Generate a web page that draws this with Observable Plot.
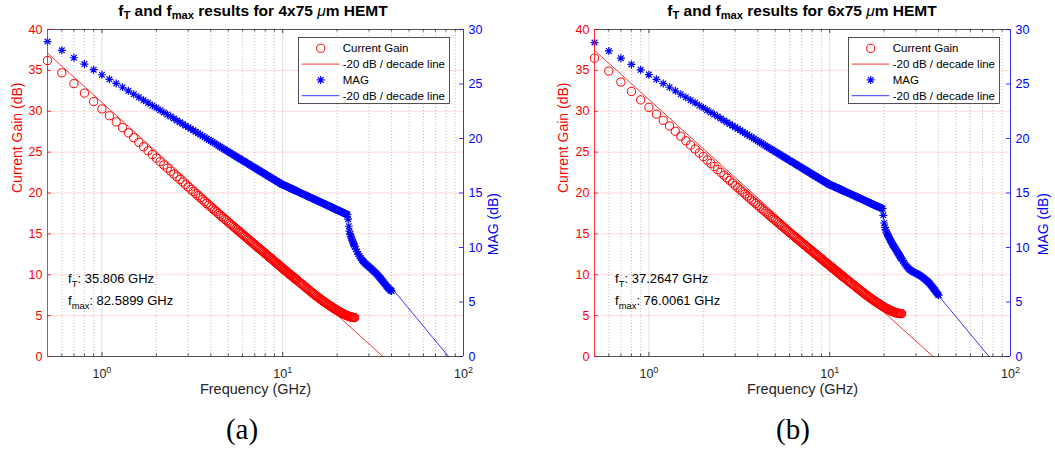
<!DOCTYPE html>
<html><head><meta charset="utf-8">
<script src="https://cdn.jsdelivr.net/npm/d3@7"></script>
<script src="https://cdn.jsdelivr.net/npm/@observablehq/plot@0.6"></script>
<style>
html,body{margin:0;padding:0;background:#fff;}
#root{position:relative;width:1055px;height:454px;overflow:hidden;font-family:"Liberation Sans",Arial,Helvetica,sans-serif;}
.title{position:absolute;top:3px;font-weight:bold;font-size:15.5px;line-height:1;color:#000;white-space:nowrap;transform:translateX(-50%);}
.title sub{font-size:72%;position:relative;top:0.3em;vertical-align:baseline;line-height:0;}
.title .mu{font-style:italic;font-weight:normal;}
.caption{position:absolute;top:415px;font-family:"Liberation Serif","DejaVu Serif",serif;font-size:29px;line-height:1;color:#000;transform:translateX(-50%);}
.legend{position:absolute;}
</style></head><body><div id="root"></div><script>
// ---------------- data ----------------
// sweep frequencies, GHz
const freq = [0.5,0.6,0.7,0.8,0.9,1.0,1.1,1.2,1.3,1.4,1.5,1.6,1.7,1.8,1.9,2.0,2.1,2.2,2.3,2.4,2.5,2.6,2.7,2.8,2.9,3.0,
3.1,3.2,3.3,3.4,3.5,3.6,3.7,3.8,3.9,
4.0,4.1,4.2,4.3,4.4,4.5,4.6,4.7,4.8,4.9,
5.0,5.1,5.2,5.3,5.4,5.5,5.6,5.7,5.8,5.9,
6.0,6.1,6.2,6.3,6.4,6.5,6.6,6.7,6.8,6.9,
7.0,7.1,7.2,7.3,7.4,7.5,7.6,7.7,7.8,7.9,
8.0,8.1,8.2,8.3,8.4,8.5,8.6,8.7,8.8,8.9,
9.0,9.1,9.2,9.3,9.4,9.5,9.6,9.7,9.8,9.9,
10.0,10.1,10.2,10.3,10.4,10.5,10.6,10.7,10.8,10.9,
11.0,11.1,11.2,11.3,11.4,11.5,11.6,11.7,11.8,11.9,
12.0,
12.2,12.4,12.6,12.8,13.0,13.2,13.4,13.6,13.8,14.0,14.2,14.4,14.6,14.8,15.0,15.2,15.4,15.6,15.8,16.0,
16.2,16.4,16.6,16.8,17.0,17.2,17.4,17.6,17.8,18.0,18.2,18.4,18.6,18.8,19.0,19.2,19.4,19.6,19.8,20.0,
20.2,20.4,20.6,20.8,21.0,21.2,21.4,21.6,21.8,22.0,22.2,22.4,22.6,22.8,23.0,23.2,23.4,23.6,23.8,24.0,
24.2,24.4,24.6,24.8,25.0,
25.4,25.8,26.2,26.6,27.0,27.4,27.8,28.2,28.6,29.0,29.4,29.8,30.2,30.6,31.0,31.4,31.8,32.2,32.6,33.0,
33.4,33.8,34.2,34.6,35.0,35.4,35.8,36.2,36.6,37.0,37.4,37.8,38.2,38.6,39.0,39.4,39.8,40.0];

// (a) 4x75 um HEMT : current gain (dB), 0.5 .. 25 GHz
const gainA = [36.20,34.70,33.38,32.22,31.19,30.28,29.45,28.70,28.00,27.36,26.76,26.20,25.67,25.17,24.70,24.26,23.83,23.43,23.04,22.67,22.32,21.98,21.65,21.34,21.03,20.74,
20.45,20.19,19.92,19.67,19.42,19.18,18.95,18.72,18.50,
18.29,18.08,17.88,17.69,17.49,17.31,17.12,16.95,16.77,16.61,
16.44,16.28,16.11,15.95,15.80,15.65,15.51,15.36,15.21,15.07,
14.94,14.80,14.67,14.53,14.41,14.28,14.16,14.04,13.91,13.79,
13.68,13.56,13.45,13.34,13.22,13.12,13.01,12.91,12.81,12.70,
12.60,12.50,12.40,12.30,12.20,12.11,12.01,11.92,11.83,11.73,
11.64,11.55,11.46,11.37,11.29,11.20,11.11,11.03,10.94,10.86,
10.78,10.70,10.62,10.54,10.46,10.39,10.31,10.24,10.16,10.09,
10.01,9.94,9.88,9.80,9.73,9.67,9.60,9.53,9.46,9.40,
9.33,
9.20,9.07,8.94,8.83,8.70,8.58,8.46,8.34,8.22,8.12,8.00,7.89,7.78,7.67,7.57,7.47,7.38,7.28,7.19,7.10,
7.01,6.92,6.84,6.75,6.67,6.59,6.52,6.44,6.36,6.29,6.22,6.15,6.08,6.02,5.95,5.88,5.82,5.76,5.70,5.64,
5.58,5.53,5.47,5.42,5.37,5.32,5.27,5.22,5.18,5.14,5.10,5.06,5.03,4.99,4.95,4.92,4.90,4.87,4.84,4.82,
4.80,4.78,4.77,4.76,4.75];
// (a) MAG (dB), 0.5 .. 40 GHz
const magA = [28.89,28.09,27.41,26.83,26.31,25.85,25.43,25.05,24.70,24.37,24.07,23.79,23.52,23.27,23.03,22.81,22.60,22.39,22.20,22.01,21.83,21.66,21.49,21.33,21.18,21.03,
20.89,20.75,20.61,20.48,20.36,20.23,20.11,19.99,19.88,
19.77,19.66,19.56,19.45,19.35,19.25,19.16,19.06,18.97,18.88,
18.79,18.70,18.62,18.53,18.45,18.37,18.29,18.22,18.14,18.06,
17.99,17.92,17.85,17.78,17.71,17.64,17.57,17.51,17.44,17.38,
17.31,17.25,17.19,17.13,17.07,17.01,16.95,16.90,16.84,16.78,
16.73,16.67,16.62,16.57,16.52,16.46,16.41,16.36,16.31,16.26,
16.21,16.16,16.12,16.07,16.02,15.98,15.93,15.88,15.84,15.79,
15.75,15.74,15.70,15.67,15.64,15.61,15.58,15.54,15.51,15.48,
15.45,15.42,15.39,15.36,15.33,15.30,15.27,15.24,15.22,15.19,
15.16,
15.11,15.05,15.00,14.94,14.89,14.84,14.79,14.74,14.69,14.64,14.60,14.55,14.50,14.46,14.41,14.37,14.33,14.28,14.24,14.20,
14.16,14.12,14.08,14.04,14.00,13.96,13.92,13.88,13.84,13.80,13.77,13.73,13.69,13.66,13.62,13.59,13.55,13.52,13.49,13.45,
13.42,13.39,13.35,13.32,13.29,13.26,13.23,13.19,13.16,13.13,13.10,13.07,13.04,13.01,12.60,11.95,11.50,11.20,11.03,10.87,
10.70,10.53,10.38,10.25,10.10,
9.86,9.62,9.40,9.20,9.03,8.88,8.75,8.64,8.54,8.45,8.36,8.28,8.19,8.11,8.02,7.94,7.85,7.76,7.68,7.59,
7.50,7.40,7.30,7.20,7.10,7.00,6.90,6.80,6.70,6.60,6.50,6.41,6.32,6.24,6.16,6.09,6.03,6.00];
const gainLineAf = [0.5, 35.806], gainLineAdb = [37.10, 0];
const magLineAf = [40, 82.5899], magLineAdb = [6.30, 0];

// (b) 6x75 um HEMT : current gain (dB), 0.5 .. 25 GHz
const gainB = [36.50,34.91,33.57,32.41,31.39,30.48,29.65,28.89,28.20,27.55,26.95,26.39,25.87,25.37,24.90,24.46,24.03,23.63,23.24,22.87,22.52,22.18,21.85,21.53,21.23,20.93,
20.65,20.38,20.12,19.87,19.62,19.38,19.14,18.92,18.71,
18.50,18.29,18.09,17.90,17.71,17.52,17.34,17.16,16.99,16.82,
16.66,16.50,16.34,16.18,16.03,15.88,15.73,15.59,15.45,15.31,
15.17,15.04,14.91,14.78,14.65,14.53,14.41,14.29,14.17,14.05,
13.93,13.82,13.71,13.60,13.49,13.39,13.28,13.18,13.07,12.97,
12.87,12.78,12.68,12.58,12.49,12.40,12.31,12.22,12.13,12.03,
11.94,11.86,11.77,11.68,11.59,11.51,11.43,11.35,11.27,11.19,
11.12,11.04,10.95,10.88,10.81,10.72,10.65,10.58,10.51,10.43,
10.36,10.29,10.22,10.14,10.08,10.01,9.95,9.87,9.81,9.75,
9.68,
9.55,9.43,9.30,9.18,9.06,8.95,8.82,8.72,8.61,8.49,8.38,8.28,8.17,8.07,7.97,7.87,7.78,7.68,7.58,7.49,
7.41,7.32,7.23,7.15,7.07,6.99,6.92,6.84,6.76,6.69,6.62,6.55,6.48,6.41,6.35,6.28,6.22,6.16,6.09,6.04,
5.98,5.92,5.88,5.83,5.77,5.73,5.69,5.65,5.61,5.57,5.53,5.49,5.46,5.43,5.39,5.37,5.34,5.32,5.29,5.28,
5.27,5.26,5.25,5.24,5.24];
// (b) MAG (dB), 0.5 .. 40 GHz
const magB = [28.80,28.03,27.37,26.80,26.30,25.86,25.43,25.05,24.70,24.37,24.07,23.79,23.52,23.27,23.03,22.81,22.60,22.39,22.20,22.01,21.83,21.66,21.49,21.33,21.18,21.03,
20.89,20.75,20.61,20.48,20.36,20.23,20.11,19.99,19.88,
19.77,19.66,19.56,19.45,19.35,19.25,19.16,19.06,18.97,18.88,
18.79,18.70,18.62,18.53,18.45,18.37,18.29,18.22,18.14,18.06,
17.99,17.92,17.85,17.78,17.71,17.64,17.57,17.51,17.44,17.38,
17.31,17.25,17.19,17.13,17.07,17.01,16.95,16.90,16.84,16.78,
16.73,16.67,16.62,16.57,16.52,16.46,16.41,16.36,16.31,16.26,
16.21,16.16,16.12,16.07,16.02,15.98,15.93,15.88,15.84,15.79,
15.75,15.75,15.71,15.68,15.65,15.62,15.59,15.56,15.53,15.50,
15.47,15.44,15.41,15.38,15.35,15.32,15.29,15.26,15.23,15.21,
15.18,
15.12,15.07,15.02,14.97,14.91,14.86,14.81,14.77,14.72,14.67,14.62,14.58,14.53,14.49,14.44,14.40,14.35,14.31,14.27,14.23,
14.19,14.15,14.11,14.07,14.03,13.99,13.95,13.91,13.88,13.84,13.80,13.77,13.73,13.70,13.66,13.63,13.59,13.56,12.95,12.25,
11.85,11.60,11.42,11.25,11.12,10.98,10.85,10.72,10.58,10.45,10.33,10.22,10.12,10.02,9.92,9.82,9.72,9.62,9.52,9.42,
9.33,9.23,9.13,9.04,8.95,
8.77,8.59,8.43,8.28,8.16,8.05,7.95,7.88,7.81,7.75,7.70,7.66,7.61,7.56,7.51,7.46,7.40,7.34,7.28,7.21,
7.14,7.07,6.99,6.92,6.84,6.76,6.67,6.57,6.47,6.37,6.27,6.17,6.07,5.97,5.87,5.77,5.67,5.62];
const gainLineBf = [0.5, 37.2647], gainLineBdb = [37.45, 0];
const magLineBf = [40, 76.0061], magLineBdb = [5.58, 0];

// ticks
const leftTicks = [0,5,10,15,20,25,30,35,40];
const rightTicks = [0,5,10,15,20,25,30];
const majorX = [1,10,100];
const minorX = [0.6,0.7,0.8,0.9,2,3,4,5,6,7,8,9,20,30,40,50,60,70,80,90];

// ---------------- drawing ----------------
const FONT = "'Liberation Sans', Arial, Helvetica, sans-serif";
const SVGNS = "http://www.w3.org/2000/svg";
const star8 = {draw(ctx, size) {
  const r = Math.sqrt(size / Math.PI), d = r * Math.SQRT1_2;
  ctx.moveTo(0, -r); ctx.lineTo(0, r);
  ctx.moveTo(-r, 0); ctx.lineTo(r, 0);
  ctx.moveTo(-d, -d); ctx.lineTo(d, d);
  ctx.moveTo(-d, d); ctx.lineTo(d, -d);
}};

function rich(svg) {
  svg.querySelectorAll("text").forEach(el => {
    const s = el.textContent;
    if (!/[\^_]\{/.test(s)) return;
    const fs = parseFloat(getComputedStyle(el).fontSize) || 12;
    while (el.firstChild) el.removeChild(el.firstChild);
    const re = /([\^_])\{([^}]*)\}/g;
    let last = 0, m, cur = 0;
    const add = (t, kind) => {
      const ts = document.createElementNS(SVGNS, "tspan");
      const target = kind === "^" ? -0.42 * fs : kind === "_" ? 0.3 * fs : 0;
      ts.setAttribute("dy", (target - cur).toFixed(2));
      cur = target;
      if (kind) ts.setAttribute("font-size", (0.72 * fs).toFixed(2));
      ts.textContent = t;
      el.appendChild(ts);
    };
    while ((m = re.exec(s))) {
      if (m.index > last) add(s.slice(last, m.index), "");
      add(m[2], m[1]);
      last = re.lastIndex;
    }
    if (last < s.length) add(s.slice(last), "");
  });
}

function makePanel(o) {
  const H = 410, mt = 29, mb = 54;
  const pw = o.w - o.ml - o.mr, ph = H - mt - mb;
  const k = 40 / 30;
  const gi = d3.range(o.gain.length), mi = d3.range(o.mag.length);
  const li = [0, 1];
  const svg = Plot.plot({
    width: o.w, height: H, marginTop: mt, marginBottom: mb, marginLeft: o.ml, marginRight: o.mr,
    x: {type: "log", domain: [0.5, 100]},
    y: {type: "linear", domain: [0, 40]},
    style: {fontFamily: FONT, fontSize: "12.5px", background: "transparent", overflow: "visible", color: "#262626"},
    marks: [
      // grid
      Plot.ruleY(leftTicks.filter(v => v > 0 && v < 40), {y: d => d, stroke: "#ff0000", strokeOpacity: 0.15}),
      Plot.ruleX(minorX, {x: d => d, stroke: "#262626", strokeOpacity: 0.28, strokeDasharray: "1,2"}),
      Plot.ruleX([1, 10], {x: d => d, stroke: "#262626", strokeOpacity: 0.15}),
      // data: current gain (left axis)
      Plot.dot(gi, {x: i => freq[i], y: i => o.gain[i], r: 4.1, stroke: "#ff0000", fill: "none", strokeWidth: 1}),
      Plot.line(li, {x: i => o.gLineF[i], y: i => o.gLineDb[i], stroke: "#ff0000", strokeWidth: 0.8}),
      // data: MAG (right axis, mapped onto the 0-40 scale)
      Plot.dot(mi, {x: i => freq[i], y: i => o.mag[i] * k, r: 4, symbol: star8, stroke: "#0000ff", fill: "none", strokeWidth: 1.2}),
      Plot.line(li, {x: i => o.mLineF[i], y: i => o.mLineDb[i] * k, stroke: "#0000ff", strokeWidth: 0.8}),
      // box
      Plot.ruleY([0, 40], {y: d => d, stroke: "#262626", strokeWidth: 0.8}),
      Plot.ruleX([0.5], {x: d => d, stroke: "#ff0000", strokeWidth: 0.8}),
      Plot.ruleX([100], {x: d => d, stroke: "#0000ff", strokeWidth: 0.8}),
      // inward ticks
      Plot.tickY(leftTicks, {y: d => d, stroke: "#ff0000", strokeWidth: 0.8, insetRight: pw - 4}),
      Plot.tickY(rightTicks.map(v => v * k), {y: d => d, stroke: "#0000ff", strokeWidth: 0.8, insetLeft: pw - 4}),
      Plot.tickX([1, 10], {x: d => d, stroke: "#262626", strokeWidth: 0.8, insetTop: ph - 4}),
      Plot.tickX([1, 10], {x: d => d, stroke: "#262626", strokeWidth: 0.8, insetBottom: ph - 4}),
      Plot.tickX(minorX, {x: d => d, stroke: "#262626", strokeWidth: 0.8, insetTop: ph - 2.5}),
      Plot.tickX(minorX, {x: d => d, stroke: "#262626", strokeWidth: 0.8, insetBottom: ph - 2.5}),
      // tick labels
      Plot.axisY(leftTicks, {anchor: "left", tickSize: 0, tickPadding: 5, color: "#ff0000", label: null}),
      Plot.axisY(rightTicks.map(v => v * k), {anchor: "right", tickSize: 0, tickPadding: 5, color: "#0000ff", label: null,
        tickFormat: d => String(Math.round(d / k))}),
      Plot.axisX(majorX, {anchor: "bottom", tickSize: 0, tickPadding: 13, color: "#262626", label: null,
        tickFormat: d => `10^{${Math.round(Math.log10(d))}}`}),
      // axis titles
      Plot.text(["Current Gain (dB)"], {text: d => d, frameAnchor: "left", dx: o.dxL, rotate: -90, fill: "#ff0000", fontSize: 14}),
      Plot.text(["MAG (dB)"], {text: d => d, frameAnchor: "right", dx: o.dxR, rotate: -90, fill: "#0000ff", fontSize: 14}),
      Plot.text(["Frequency (GHz)"], {text: d => d, frameAnchor: "bottom", dy: 37, fill: "#262626", fontSize: 14.5}),
      // annotations
      Plot.text([o.annT], {text: d => d, x: 0.65, y: 9.5, textAnchor: "start", fill: "#000", fontSize: 13}),
      Plot.text([o.annM], {text: d => d, x: 0.65, y: 6.85, textAnchor: "start", fill: "#000", fontSize: 13})
    ]
  });
  svg.style.position = "absolute";
  svg.style.left = o.left + "px";
  svg.style.top = "0px";
  return svg;
}

function legend(left, top) {
  const rows = [
    {label: "Current Gain", kind: "circle", color: "#ff0000"},
    {label: "-20 dB / decade line", kind: "line", color: "#ff0000"},
    {label: "MAG", kind: "star", color: "#0000ff"},
    {label: "-20 dB / decade line", kind: "line", color: "#0000ff"}
  ];
  const W = 152, Hh = 67, ys = [11.3, 27.1, 42.9, 58.7];
  const svg = document.createElementNS(SVGNS, "svg");
  svg.setAttribute("width", W); svg.setAttribute("height", Hh);
  svg.setAttribute("class", "legend");
  svg.style.left = left + "px"; svg.style.top = top + "px";
  let h = `<rect x="0.5" y="0.5" width="${W - 1}" height="${Hh - 1}" fill="#fff" stroke="#262626" stroke-width="0.8"/>`;
  rows.forEach((r, i) => {
    const y = ys[i];
    if (r.kind === "circle") h += `<circle cx="22.7" cy="${y}" r="4.1" fill="none" stroke="${r.color}" stroke-width="1"/>`;
    if (r.kind === "line") h += `<line x1="3.7" x2="41.3" y1="${y}" y2="${y}" stroke="${r.color}" stroke-width="0.8"/>`;
    if (r.kind === "star") {
      const a = 4, d = (a * Math.SQRT1_2).toFixed(2);
      h += `<path transform="translate(22.7,${y})" d="M0,-${a}V${a}M-${a},0H${a}M-${d},-${d}L${d},${d}M-${d},${d}L${d},-${d}" fill="none" stroke="${r.color}" stroke-width="1.2"/>`;
    }
    h += `<text x="44.7" y="${y}" dy="0.35em" font-size="11.5" font-family="${FONT.replace(/'/g, "")}" fill="#000">${r.label}</text>`;
  });
  svg.innerHTML = h;
  return svg;
}

const root = document.getElementById("root");
const panels = [
  {left: 0, w: 527, ml: 47, mr: 64, gain: gainA, mag: magA, gLineF: gainLineAf, gLineDb: gainLineAdb,
   mLineF: magLineAf, mLineDb: magLineAdb, dxL: -30, dxR: 30,
   annT: "f_{T}: 35.806 GHz", annM: "f_{max}: 82.5899 GHz",
   titleX: 253, title: 'f<sub>T</sub> and f<sub>max</sub> results for 4x75 <span class="mu">μ</span>m HEMT',
   legX: 298, caption: "(a)", capX: 242},
  {left: 527, w: 528, ml: 67, mr: 45, gain: gainB, mag: magB, gLineF: gainLineBf, gLineDb: gainLineBdb,
   mLineF: magLineBf, mLineDb: magLineBdb, dxL: -31, dxR: 33,
   annT: "f_{T}: 37.2647 GHz", annM: "f_{max}: 76.0061 GHz",
   titleX: 802, title: 'f<sub>T</sub> and f<sub>max</sub> results for 6x75 <span class="mu">μ</span>m HEMT',
   legX: 848, caption: "(b)", capX: 793}
];
for (const p of panels) {
  const svg = makePanel(p);
  root.appendChild(svg);
  rich(svg);
  root.appendChild(legend(p.legX, 37));
  const t = document.createElement("div");
  t.className = "title"; t.style.left = p.titleX + "px"; t.innerHTML = p.title;
  root.appendChild(t);
  const c = document.createElement("div");
  c.className = "caption"; c.style.left = p.capX + "px"; c.textContent = p.caption;
  root.appendChild(c);
}
</script></body></html>
